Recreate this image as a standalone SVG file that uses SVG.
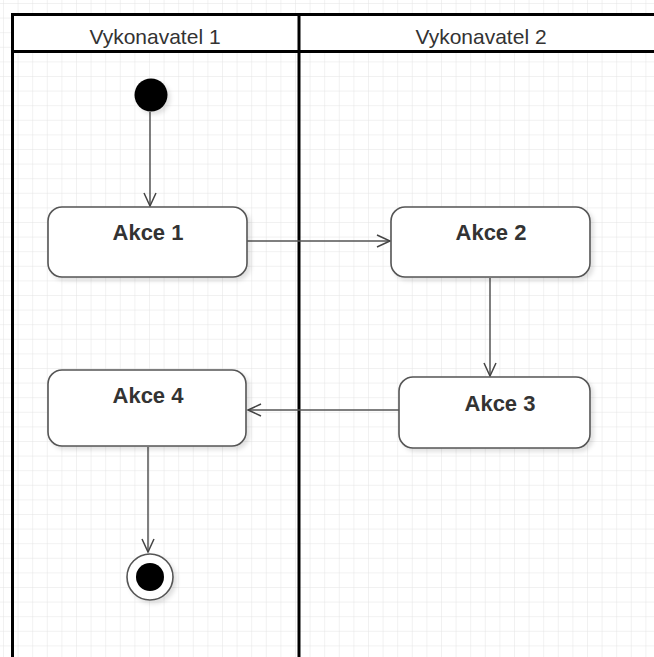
<svg xmlns="http://www.w3.org/2000/svg" width="654" height="657" viewBox="0 0 654 657">
  <defs>
    <pattern id="grid" width="14.6" height="14.6" patternUnits="userSpaceOnUse" x="3" y="3">
      <path d="M14.6 0 L0 0 0 14.6" fill="none" stroke="#e3e3e3" stroke-width="1"/>
    </pattern>
    <marker id="open" markerWidth="16" markerHeight="14" refX="14" refY="7" orient="auto" markerUnits="userSpaceOnUse">
      <path d="M1 1 L14 7 L1 13" fill="none" stroke="#444" stroke-width="1.5"/>
    </marker>
    <filter id="shadow" x="-20%" y="-20%" width="150%" height="150%">
      <feDropShadow dx="3" dy="3" stdDeviation="2" flood-color="#000" flood-opacity="0.12"/>
    </filter>
    <style>
      .lane { fill: none; stroke: #000; stroke-width: 3; }
      .lane-title { font-family: "Liberation Sans", Arial, sans-serif; font-size: 21px; fill: #333; text-anchor: middle; }
      .action rect { fill: #fff; stroke: #555; stroke-width: 1.6; filter: url(#shadow); }
      .action text { font-family: "Liberation Sans", Arial, sans-serif; font-size: 22px; font-weight: bold; fill: #333; text-anchor: middle; }
      .flow { fill: none; stroke: #555; stroke-width: 1.5; marker-end: url(#open); }
    </style>
  </defs>

  <!-- canvas -->
  <rect width="654" height="657" fill="#fff"/>
  <rect width="654" height="657" fill="url(#grid)"/>

  <!-- swimlane pool -->
  <g id="lanes">
    <rect x="12.5" y="14.5" width="660" height="37" fill="#fff"/>
    <line class="lane" x1="11" y1="14.5" x2="654" y2="14.5"/>
    <line class="lane" x1="11" y1="51.5" x2="654" y2="51.5"/>
    <line class="lane" x1="12.5" y1="13" x2="12.5" y2="657"/>
    <line class="lane" x1="299" y1="13" x2="299" y2="657"/>
    <text class="lane-title" x="155" y="44">Vykonavatel 1</text>
    <text class="lane-title" x="481" y="44">Vykonavatel 2</text>
  </g>

  <!-- connectors -->
  <g id="connectors">
    <path class="flow" d="M150 112 L150 206"/>
    <path class="flow" d="M247 241 L390 241"/>
    <path class="flow" d="M490 278 L490 376"/>
    <path class="flow" d="M399 410 L248 410"/>
    <path class="flow" d="M148 447 L148 552"/>
  </g>

  <g id="start">
    <circle cx="151" cy="95" r="16.5" fill="#000" filter="url(#shadow)"/>
  </g>

  <g id="akce1" class="action">
    <rect x="48" y="207" width="199" height="70" rx="14"/>
    <text x="148" y="240">Akce 1</text>
  </g>

  <g id="akce2" class="action">
    <rect x="391" y="207" width="199" height="70" rx="14"/>
    <text x="491" y="240">Akce 2</text>
  </g>

  <g id="akce3" class="action">
    <rect x="399" y="377" width="191" height="71" rx="14"/>
    <text x="500" y="411">Akce 3</text>
  </g>

  <g id="akce4" class="action">
    <rect x="48" y="370" width="198" height="76" rx="14"/>
    <text x="148" y="403">Akce 4</text>
  </g>

  <g id="final">
    <circle cx="150" cy="577" r="23" fill="#fff" stroke="#555" stroke-width="1.6" filter="url(#shadow)"/>
    <circle cx="150" cy="577" r="14" fill="#000"/>
  </g>
</svg>
